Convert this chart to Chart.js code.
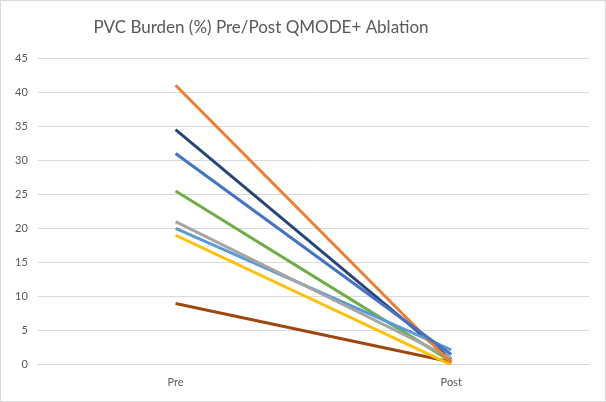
<!DOCTYPE html>
<html>
<head>
<meta charset="utf-8">
<script src="https://cdn.jsdelivr.net/npm/chart.js@4"></script>
<style>
	html, body { margin: 0; padding: 0; background: #fff; }
	#wrap { width: 604px; height: 400px; border: 1px solid #d9d9d9; }
</style>
</head>
<body>
<div id="wrap"><canvas id="chart" width="604" height="400"></canvas></div>
<script>
// categories
var categories = ["Pre", "Post"];

// one line per patient (PVC burden %)
var patient1 = [31, 1.5];
var patient2 = [41, 0.3];
var patient3 = [21, 1];
var patient4 = [19, 0];
var patient5 = [20, 2.2];
var patient6 = [25.5, 0.5];
var patient7 = [34.5, 0.8];
var patient8 = [9, 0.4];

var yTicks = [0, 5, 10, 15, 20, 25, 30, 35, 40, 45];
var chartTitle = "PVC Burden (%) Pre/Post QMODE+ Ablation";

var colors = ["#4472C4", "#ED7D31", "#A5A5A5", "#FFC000", "#5B9BD5", "#70AD47", "#264478", "#9E480E"];
var allSeries = [patient1, patient2, patient3, patient4, patient5, patient6, patient7, patient8];

var datasets = allSeries.map(function (vals, i) {
	return {
		label: "Patient " + (i + 1),
		data: vals,
		borderColor: colors[i],
		backgroundColor: colors[i],
		borderWidth: 3,
		pointRadius: 0,
		tension: 0
	};
});

// title sits a bit left of centre like the original
var titlePlugin = {
	id: "offsetTitle",
	afterDraw: function (chart) {
		var c = chart.ctx;
		c.save();
		c.fillStyle = "#595959";
		c.font = "17px Lato";
		c.textAlign = "center";
		c.textBaseline = "middle";
		c.fillText(chartTitle, 260, 27);
		c.restore();
	}
};

var ctx = document.getElementById("chart");
var chart = new Chart(ctx, {
	type: "line",
	data: { labels: categories, datasets: datasets },
	plugins: [titlePlugin],
	options: {
		responsive: false,
		animation: false,
		layout: { padding: { left: 4, right: 16, top: 57, bottom: 9 } },
		plugins: {
			legend: { display: false },
			tooltip: { enabled: false },
			title: { display: false }
		},
		scales: {
			x: {
				offset: true,
				grid: { display: false },
				border: { display: true, color: "#d9d9d9", width: 1 },
				ticks: { color: "#595959", font: { family: "Lato", size: 11 }, padding: 3 }
			},
			y: {
				min: 0,
				max: 45,
				afterBuildTicks: function (axis) {
					axis.ticks = yTicks.map(function (v) { return { value: v }; });
				},
				grid: { color: "#d9d9d9", drawTicks: false },
				border: { display: false },
				ticks: { color: "#595959", font: { family: "Lato", size: 11 }, padding: 10 }
			}
		}
	}
});
</script>
</body>
</html>
